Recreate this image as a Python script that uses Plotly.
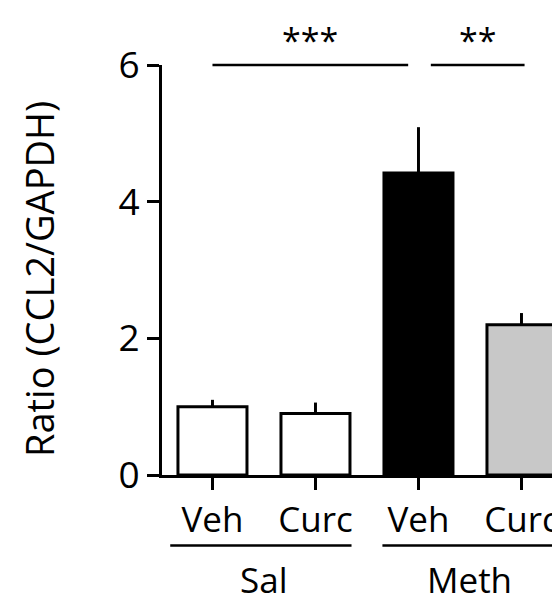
import plotly.graph_objects as go

# ---- data ----
treatments = ["Veh", "Curc", "Veh", "Curc"]
groups = ["Sal", "Meth"]
values = [1.0, 0.9, 4.42, 2.2]
errors = [0.1, 0.16, 0.67, 0.17]
bar_colors = ["white", "white", "black", "#c8c8c8"]
y_ticks = [0, 2, 4, 6]
y_max = 6
sig_labels = ["***", "**"]
sig_spans = [(0, 1.9), (2.12, 3.03)]
group_spans = [(-0.41, 1.35), (1.65, 3.41)]
group_centers = [0.5, 2.5]

FONT = "Open Sans"
BLACK = "black"
positions = list(range(len(treatments)))

# the reference is a crop of a wider figure: draw it wider, window cuts it
FIG_W, FIG_H = 640, 598
M_L, M_R, M_T, M_B = 162, 0, 65, 123
PX_PER_CAT = 103
x_lo = -0.49
x_hi = x_lo + (FIG_W - M_L - M_R) / PX_PER_CAT

fig = go.Figure()
fig.add_trace(go.Bar(
    x=positions, y=values, width=0.67,
    marker=dict(color=bar_colors, line=dict(color=BLACK, width=3)),
    error_y=dict(type="data", symmetric=False, array=errors,
                 arrayminus=[0] * len(errors), color=BLACK,
                 thickness=3, width=0),
    showlegend=False, hoverinfo="skip",
))

shapes = []
annotations = []
# significance lines and stars
for (x0, x1), lab in zip(sig_spans, sig_labels):
    shapes.append(dict(type="line", xref="x", yref="paper",
                       x0=x0, x1=x1, y0=y_max / y_max, y1=y_max / y_max,
                       line=dict(color=BLACK, width=2.5)))
    annotations.append(dict(text=lab, xref="x", yref="paper",
                            x=(x0 + x1) / 2, y=y_max / y_max,
                            xanchor="center", yanchor="bottom", yshift=0,
                            showarrow=False,
                            font=dict(family=FONT, size=34, color=BLACK)))
# group lines and labels
for (x0, x1), g, c in zip(group_spans, groups, group_centers):
    shapes.append(dict(type="line", xref="x", yref="paper",
                       x0=x0, x1=x1, y0=-0.172, y1=-0.172,
                       line=dict(color=BLACK, width=2.5)))
    annotations.append(dict(text=g, xref="x", yref="paper",
                            x=c, y=-0.172, xanchor="center", yanchor="top",
                            yshift=-8, showarrow=False,
                            font=dict(family=FONT, size=35, color=BLACK)))
# y-axis title
annotations.append(dict(text="Ratio (CCL2/GAPDH)", xref="paper", yref="paper",
                        x=0, y=0.478, xanchor="center", yanchor="middle",
                        xshift=-123, textangle=-90, showarrow=False,
                        font=dict(family=FONT, size=38, color=BLACK)))

fig.update_layout(
    width=FIG_W, height=FIG_H,
    margin=dict(l=M_L, r=M_R, t=M_T, b=M_B),
    paper_bgcolor="white", plot_bgcolor="white",
    font=dict(family=FONT, size=35, color=BLACK),
    shapes=shapes, annotations=annotations,
    xaxis=dict(range=[x_lo, x_hi], tickmode="array", tickvals=positions,
               ticktext=treatments, showline=True, linecolor=BLACK,
               linewidth=3, ticks="outside", ticklen=12, tickwidth=3,
               tickcolor=BLACK, showgrid=False, zeroline=False,
               automargin=False, ticklabeloverflow="allow",
               tickfont=dict(family=FONT, size=35, color=BLACK)),
    yaxis=dict(range=[0, y_max], tickmode="array", tickvals=y_ticks,
               showline=True, linecolor=BLACK, linewidth=3,
               ticks="outside", ticklen=12, tickwidth=3, tickcolor=BLACK,
               showgrid=False, zeroline=False, automargin=False,
               tickfont=dict(family=FONT, size=37, color=BLACK)),
)

fig.write_html(
    "out.html",
    config={"displayModeBar": False},
    post_script="document.body.style.margin='0';"
                "document.documentElement.style.overflow='hidden';"
                "document.body.style.overflow='hidden';",
)
